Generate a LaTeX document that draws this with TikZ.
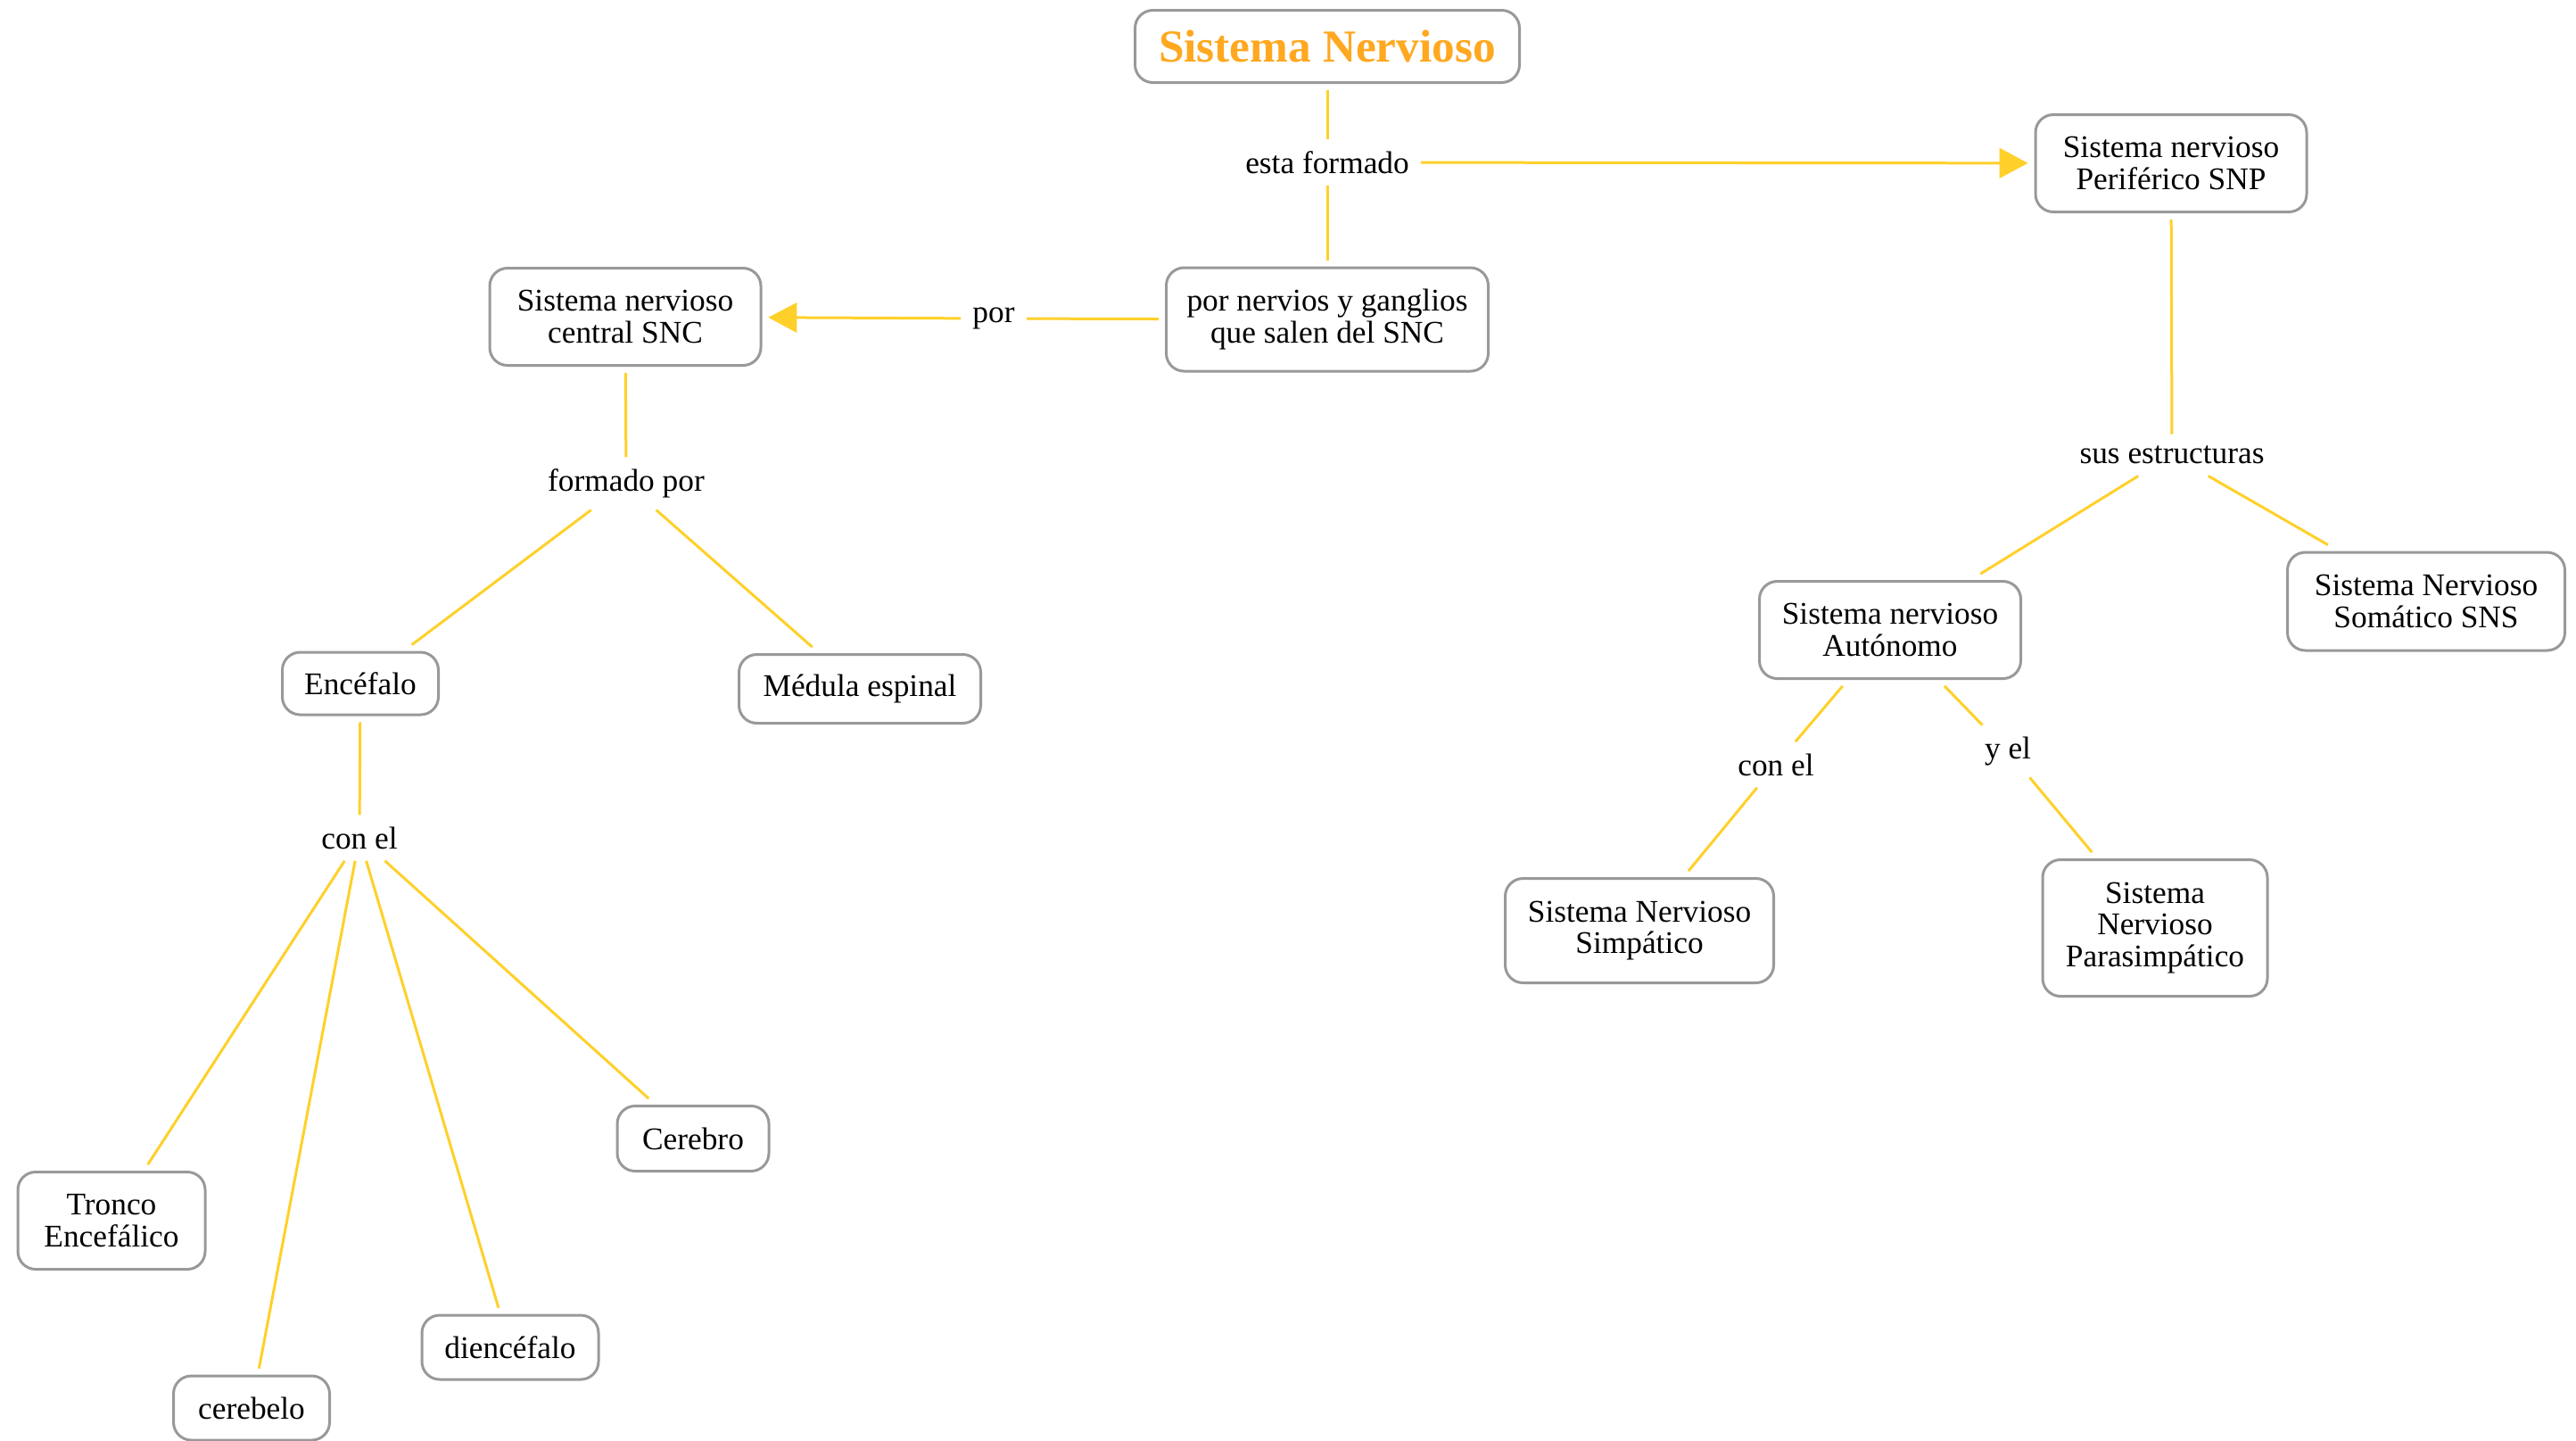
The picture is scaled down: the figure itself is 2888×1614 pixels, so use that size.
\documentclass[tikz,border=0pt]{standalone}
\usepackage{fontspec}
\setmainfont{Liberation Serif}
\usetikzlibrary{arrows.meta}
\definecolor{lineY}{HTML}{FFD02A}
\definecolor{boxG}{HTML}{999999}
\definecolor{titleO}{HTML}{FFA820}
\begin{document}
\begin{tikzpicture}[x=0.3pt,y=-0.3pt,
 box/.style={draw=boxG, line width=0.9pt, rounded corners=6pt, fill=white, align=center, inner sep=2pt, outer sep=2.5pt, font=\fontsize{10.6}{10.6}\selectfont},
 lbl/.style={inner sep=2pt, outer sep=2pt, font=\fontsize{10.6}{10.6}\selectfont},
 con/.style={draw=lineY, line width=0.9pt},
 arr/.style={con, -{Triangle[length=9.6pt,width=10pt]}}]
\useasboundingbox (0,0) rectangle (2888,1614);
% boxes
\node[box, minimum width=129.3pt, minimum height=24.3pt, text=titleO, font=\fontsize{15.4}{16}\selectfont\bfseries] (sn) at (1488,52) {Sistema Nervioso};
\node[box, minimum width=91.2pt, minimum height=32.7pt] (snp) at (2434,183) {Sistema nervioso\\Periférico SNP};
\node[box, minimum width=108.3pt, minimum height=34.8pt] (png) at (1488,358) {por nervios y ganglios\\que salen del SNC};
\node[box, minimum width=91.2pt, minimum height=32.7pt] (snc) at (701,355) {Sistema nervioso\\central SNC};
\node[box, minimum width=52.5pt, minimum height=21pt] (enc) at (404,766) {Encéfalo};
\node[box, minimum width=81.3pt, minimum height=23.1pt] (med) at (964,772) {Médula espinal};
\node[box, minimum width=63pt, minimum height=32.7pt] (tro) at (125,1368) {Tronco\\Encefálico};
\node[box, minimum width=52.5pt, minimum height=21.6pt] (cbl) at (282,1578) {cerebelo};
\node[box, minimum width=59.4pt, minimum height=21.6pt] (die) at (572,1510) {diencéfalo};
\node[box, minimum width=51pt, minimum height=21.9pt] (cer) at (777,1276) {Cerebro};
\node[box, minimum width=87.9pt, minimum height=32.7pt] (aut) at (2119,706) {Sistema nervioso\\Autónomo};
\node[box, minimum width=93.3pt, minimum height=33pt] (som) at (2720,674) {Sistema Nervioso\\Somático SNS};
\node[box, minimum width=90.3pt, minimum height=35.1pt] (sim) at (1838,1043) {Sistema Nervioso\\Simpático};
\node[box, minimum width=75.6pt, minimum height=45.9pt] (par) at (2416,1040) {Sistema\\Nervioso\\Parasimpático};
% labels
\node[lbl] (l1) at (1488,182) {esta formado};
\node[lbl] (l2) at (1114,357) {por};
\node[lbl] (l3) at (702,542) {formado por};
\node[lbl] (l4) at (403,939) {con el};
\node[lbl] (l5) at (2435,510) {sus estructuras};
\node[lbl] (l6) at (1991,857) {con el};
\node[lbl] (l7) at (2251,842) {y el};
% connectors
\draw[con] (sn) -- (l1);
\draw[arr] (l1) -- (snp);
\draw[con] (l1) -- (png);
\draw[con] (png) -- (l2);
\draw[arr] (l2) -- (snc);
\draw[con] (snc) -- (l3);
\draw[con] (l3) -- (enc);
\draw[con] (l3) -- (med);
\draw[con] (enc) -- (l4);
\draw[con] (l4) -- (tro);
\draw[con] (l4) -- (cbl);
\draw[con] (l4) -- (die);
\draw[con] (l4) -- (cer);
\draw[con] (snp) -- (l5);
\draw[con] (l5) -- (aut);
\draw[con] (l5) -- (som);
\draw[con] (aut) -- (l6);
\draw[con] (l6) -- (sim);
\draw[con] (aut) -- (l7);
\draw[con] (l7) -- (par);
\end{tikzpicture}
\end{document}
